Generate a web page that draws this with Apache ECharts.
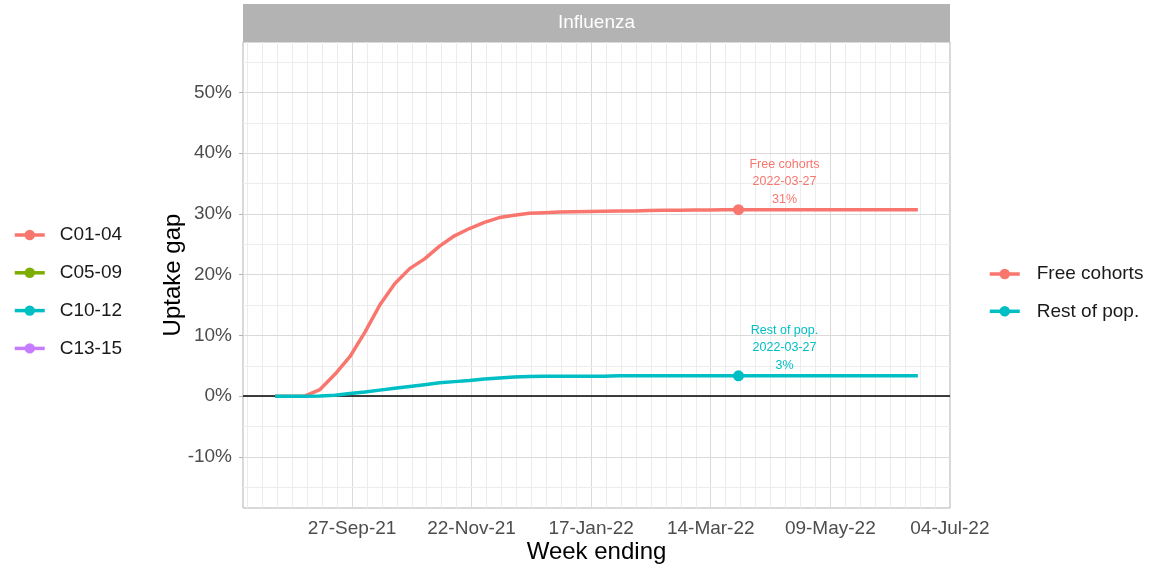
<!DOCTYPE html>
<html><head><meta charset="utf-8">
<script src="https://cdn.jsdelivr.net/npm/echarts@6/dist/echarts.min.js"></script>
<style>html,body{margin:0;padding:0;background:#fff}#chart{width:1160px;height:566px}</style>
</head><body><div id="chart"></div>
<script>
// ---------- data ----------
const weekEnding = [
  '2021-08-22','2021-08-29','2021-09-05','2021-09-12','2021-09-19','2021-09-26','2021-10-03','2021-10-10',
  '2021-10-17','2021-10-24','2021-10-31','2021-11-07','2021-11-14','2021-11-21','2021-11-28','2021-12-05',
  '2021-12-12','2021-12-19','2021-12-26','2022-01-02','2022-01-09','2022-01-16','2022-01-23','2022-01-30',
  '2022-02-06','2022-02-13','2022-02-20','2022-02-27','2022-03-06','2022-03-13','2022-03-20','2022-03-27',
  '2022-04-03','2022-04-10','2022-04-17','2022-04-24','2022-05-01','2022-05-08','2022-05-15','2022-05-22',
  '2022-05-29','2022-06-05','2022-06-12','2022-06-19'
];
const freeCohorts = [
  0, 0, 0.05, 1.1, 3.6, 6.5, 10.5, 15.0,
  18.5, 21.0, 22.6, 24.7, 26.4, 27.6, 28.6, 29.4,
  29.8, 30.1, 30.2, 30.3, 30.35, 30.4, 30.45, 30.5,
  30.5, 30.55, 30.6, 30.6, 30.65, 30.65, 30.7, 30.7,
  30.7, 30.7, 30.7, 30.7, 30.7, 30.7, 30.7, 30.7,
  30.7, 30.7, 30.7, 30.7
];
const restOfPop = [
  0, 0, 0, 0.05, 0.15, 0.45, 0.7, 1.0,
  1.3, 1.6, 1.9, 2.2, 2.4, 2.6, 2.85, 3.0,
  3.15, 3.25, 3.3, 3.3, 3.3, 3.3, 3.3, 3.35,
  3.35, 3.35, 3.35, 3.35, 3.35, 3.35, 3.35, 3.35,
  3.35, 3.35, 3.35, 3.35, 3.35, 3.35, 3.35, 3.35,
  3.35, 3.35, 3.35, 3.35
];
const highlightDate = '2022-03-27';
const xTickDates = ['2021-09-27','2021-11-22','2022-01-17','2022-03-14','2022-05-09','2022-07-04'];
const xMinorStart = '2021-08-09';
const xMinorEnd = '2022-07-04';
const yTicks = [-10, 0, 10, 20, 30, 40, 50];
const yMinorTicks = [-15, -5, 5, 15, 25, 35, 45, 55];
const cohortGroups = ['C01-04', 'C05-09', 'C10-12', 'C13-15'];
const cohortColors = ['#F8766D', '#7CAE00', '#00BFC4', '#C77CFF'];
const groupNames = ['Free cohorts', 'Rest of pop.'];
const groupColors = ['#F8766D', '#00BFC4'];
const facetTitle = 'Influenza';
const xTitle = 'Week ending';
const yTitle = 'Uptake gap';

// ---------- helpers ----------
const DAY = 86400000;
const ts = s => Date.parse(s + 'T00:00:00Z');
const MON = ['Jan','Feb','Mar','Apr','May','Jun','Jul','Aug','Sep','Oct','Nov','Dec'];
const fmtDate = v => { const d = new Date(v); return String(d.getUTCDate()).padStart(2,'0') + '-' + MON[d.getUTCMonth()] + '-' + String(d.getUTCFullYear()).slice(2); };
const FONT = "'Liberation Sans', Arial, Helvetica, sans-serif";

const firstT = ts(weekEnding[0]), lastT = ts(weekEnding[weekEnding.length - 1]);
const expand = (lastT - firstT) * 0.05;
const xMin = firstT - expand, xMax = lastT + expand;
const yMin = -18.4, yMax = 58.3;

const majorX = xTickDates.map(ts);
const gridLines = [];
for (let t = ts(xMinorStart); t <= ts(xMinorEnd); t += 7 * DAY) {
  const major = majorX.includes(t);
  gridLines.push({ xAxis: t, lineStyle: { color: major ? '#DADADA' : '#ECECEC', width: 1, type: 'solid' } });
}
yTicks.forEach(v => gridLines.push({ yAxis: v, lineStyle: { color: '#DADADA', width: 1, type: 'solid' } }));
yMinorTicks.forEach(v => gridLines.push({ yAxis: v, lineStyle: { color: '#ECECEC', width: 1, type: 'solid' } }));

const pairs = arr => weekEnding.map((d, i) => [ts(d), arr[i]]);
const hiIdx = weekEnding.indexOf(highlightDate);
const groupData = [freeCohorts, restOfPop];

const series = [];
// gridlines (behind everything)
series.push({
  name: '_grid', type: 'line', data: [], z: 1, silent: true, showSymbol: false,
  markLine: { silent: true, z: 1, symbol: ['none', 'none'], label: { show: false }, animation: false, data: gridLines }
});
// zero reference line
series.push({
  name: '_zero', type: 'line', data: [], z: 2, silent: true,
  markLine: { silent: true, z: 2, symbol: ['none', 'none'], label: { show: false }, animation: false,
    data: [{ yAxis: 0, lineStyle: { color: '#000000', width: 1.6, type: 'solid' } }] }
});
// cohort legend series (left legend)
cohortGroups.forEach((g, i) => series.push({
  name: g, type: 'line', data: [], color: cohortColors[i], symbol: 'circle', symbolSize: 10,
  lineStyle: { width: 3.5 }, itemStyle: { color: cohortColors[i] }
}));
// group lines
groupNames.forEach((g, i) => series.push({
  name: g, type: 'line', data: pairs(groupData[i]), color: groupColors[i], z: 3,
  symbol: 'circle', symbolSize: 10, showSymbol: false, smooth: false,
  lineStyle: { width: 3.5, color: groupColors[i] }, itemStyle: { color: groupColors[i] }
}));
// highlighted points with labels
groupNames.forEach((g, i) => series.push({
  name: g + ' point', type: 'scatter', z: 4, symbol: 'circle', symbolSize: 11,
  itemStyle: { color: groupColors[i], opacity: 1 },
  data: [[ts(highlightDate), groupData[i][hiIdx]]],
  label: {
    show: true, position: 'top', distance: 0, offset: [46, 4],
    formatter: () => g + '\n' + highlightDate + '\n' + Math.round(groupData[i][hiIdx]) + '%',
    color: groupColors[i], fontSize: 12.5, lineHeight: 17.6, fontFamily: FONT, align: 'center'
  }
}));

const legendCommon = {
  orient: 'vertical', padding: 0, itemWidth: 30, itemHeight: 13, selectedMode: false,
  lineStyle: { width: 3.5 },
  textStyle: { fontSize: 19, color: '#1A1A1A', lineHeight: 22, fontFamily: FONT }
};

const option = {
  animation: false,
  backgroundColor: '#ffffff',
  textStyle: { fontFamily: FONT },
  grid: { left: 243, top: 42, width: 707, height: 466, show: true, borderColor: '#B3B3B3', borderWidth: 1,
    backgroundColor: 'transparent', containLabel: false, outerBoundsMode: 'none' },
  graphic: [
    { type: 'rect', left: 243, top: 4, shape: { width: 707, height: 38 }, style: { fill: '#B3B3B3' }, silent: true },
    { type: 'text', x: 596.5, y: 23, style: { text: facetTitle, fill: '#FFFFFF', font: "19px " + FONT, textAlign: 'center', textVerticalAlign: 'middle' }, silent: true }
  ],
  legend: [
    Object.assign({}, legendCommon, { data: cohortGroups, left: 13, top: 224, itemGap: 15.8,
      textStyle: Object.assign({}, legendCommon.textStyle, { padding: [0, 0, 0, 10] }) }),
    Object.assign({}, legendCommon, { data: groupNames, left: 988, top: 263, itemGap: 15.3,
      textStyle: Object.assign({}, legendCommon.textStyle, { padding: [0, 0, 0, 12] }) })
  ],
  xAxis: {
    type: 'value', min: xMin, max: xMax, name: xTitle, nameLocation: 'middle', nameGap: 32,
    nameMoveOverlap: false,
    nameTextStyle: { fontSize: 24, color: '#000000', fontFamily: FONT },
    axisLine: { show: false },
    axisTick: { show: true, length: 4, customValues: majorX, lineStyle: { color: '#B3B3B3', width: 1 } },
    axisLabel: { customValues: majorX, formatter: v => fmtDate(v), fontSize: 19, color: '#4D4D4D', margin: 11, fontFamily: FONT },
    splitLine: { show: false }, minorSplitLine: { show: false }
  },
  yAxis: {
    type: 'value', min: yMin, max: yMax, name: yTitle, nameLocation: 'middle', nameGap: 58,
    nameMoveOverlap: false,
    nameTextStyle: { fontSize: 24, color: '#000000', fontFamily: FONT },
    axisLine: { show: false },
    axisTick: { show: true, length: 4, customValues: yTicks, lineStyle: { color: '#B3B3B3', width: 1 } },
    axisLabel: { customValues: yTicks, formatter: v => v + '%', fontSize: 19, color: '#4D4D4D', margin: 11, fontFamily: FONT },
    splitLine: { show: false }
  },
  series: series
};
const chart = echarts.init(document.getElementById('chart'), null, { renderer: 'canvas' });
chart.setOption(option);
</script>
</body></html>
